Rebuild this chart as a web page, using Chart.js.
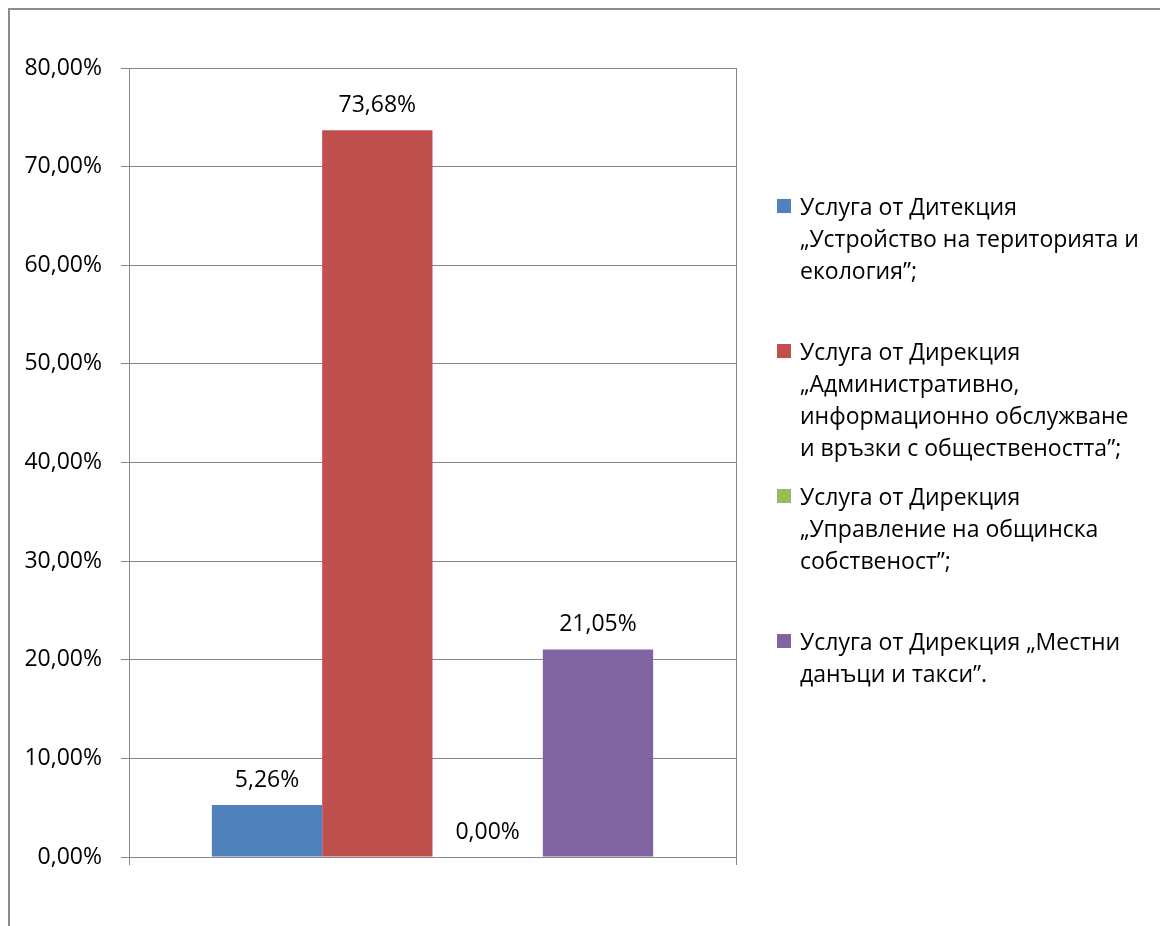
<!DOCTYPE html>
<html>
<head>
<meta charset="utf-8">
<script src="https://cdn.jsdelivr.net/npm/chart.js@4"></script>
<style>
  body { margin: 0; background: #fff; }
  #wrap { position: relative; width: 1160px; height: 926px; overflow: hidden; }
  #frame {
    position: absolute; left: 8px; top: 8px; width: 1300px; height: 1100px;
    border-left: 2px solid #8c8c8c; border-top: 2px solid #8c8c8c;
  }
  #legend {
    position: absolute; left: 777px; top: 190px;
    font-family: "Open Sans", sans-serif; font-size: 23px; color: #000;
  }
  .item { display: flex; align-items: flex-start; height: 145px; }
  .box { width: 14px; height: 14px; margin-top: 9px; margin-right: 9px; flex: none; }
  .txt { line-height: 32px; white-space: pre; }
  canvas { position: absolute; left: 0; top: 0; }
</style>
</head>
<body>
<div id="wrap">
  <div id="frame"></div>
  <canvas id="chart" width="1160" height="926"></canvas>
  <div id="legend"></div>
</div>
<script>
// =====================
// Chart data
// =====================

const categories = [''];

const seriesNames = [
  'Услуга от Дитекция\n„Устройство на територията и\nекология”;',
  'Услуга от Дирекция\n„Административно,\nинформационно обслужване\nи връзки с обществеността”;',
  'Услуга от Дирекция\n„Управление на общинска\nсобственост”;',
  'Услуга от Дирекция „Местни\nданъци и такси”.'
];

const seriesValues = [5.26, 73.68, 0, 21.05];   // percent

const seriesColors = ['#4F81BD', '#C0504D', '#9BBB59', '#8064A2'];

const yMin = 0;
const yMax = 80;
const yStep = 10;

// =====================
// Helpers
// =====================

const fmtPct = v => v.toFixed(2).replace('.', ',') + '%';
const FONT = '"Open Sans", sans-serif';

// labels drawn above each bar
const barLabels = {
  id: 'barLabels',
  afterDatasetsDraw(chart) {
    const ctx = chart.ctx;
    ctx.save();
    ctx.font = '23px ' + FONT;
    ctx.fillStyle = '#000';
    ctx.textAlign = 'center';
    ctx.textBaseline = 'middle';
    chart.data.datasets.forEach((ds, i) => {
      chart.getDatasetMeta(i).data.forEach((bar, j) => {
        ctx.fillText(fmtPct(ds.data[j]), bar.x, bar.y - 25);
      });
    });
    ctx.restore();
  }
};

// =====================
// Chart
// =====================

const chart = new Chart(document.getElementById('chart'), {
  type: 'bar',
  data: {
    labels: categories,
    datasets: seriesNames.map((name, i) => ({
      label: name,
      data: [seriesValues[i]],
      backgroundColor: seriesColors[i],
      borderWidth: 0,
      categoryPercentage: 0.727,
      barPercentage: 1.0
    }))
  },
  options: {
    responsive: false,
    animation: false,
    layout: { padding: { left: 0, top: 68, right: 424, bottom: 0 } },
    plugins: {
      legend: { display: false },
      tooltip: { enabled: false }
    },
    scales: {
      x: {
        grid: { offset: true, color: '#868686', tickLength: 8 },
        border: { color: '#868686' },
        ticks: { display: true },
        afterFit: s => { s.height = 69; }
      },
      y: {
        min: yMin,
        max: yMax,
        ticks: {
          stepSize: yStep,
          color: '#000',
          padding: 19,
          font: { family: FONT, size: 23 },
          callback: v => fmtPct(v)
        },
        grid: { color: '#868686', tickLength: 8 },
        border: { color: '#868686' },
        afterFit: s => { s.width = 129; }
      }
    }
  },
  plugins: [barLabels]
});

// =====================
// Legend (HTML, wraps like the original)
// =====================

const legendEl = document.getElementById('legend');
chart.data.datasets.forEach(ds => {
  const item = document.createElement('div');
  item.className = 'item';
  item.innerHTML = `<span class="box" style="background:${ds.backgroundColor}"></span><span class="txt"></span>`;
  item.querySelector('.txt').textContent = ds.label;
  legendEl.appendChild(item);
});
</script>
</body>
</html>
